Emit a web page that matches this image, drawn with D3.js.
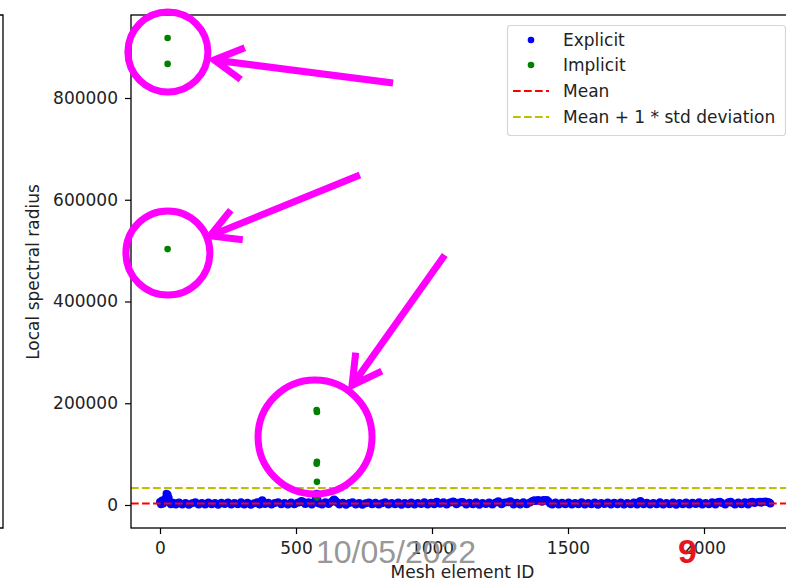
<!DOCTYPE html>
<html><head><meta charset="utf-8">
<script src="https://cdn.jsdelivr.net/npm/d3@7"></script>
<style>
body{margin:0;background:#fff;}
svg{display:block;font-family:"DejaVu Sans",sans-serif;}
</style></head>
<body><svg id="c" width="786" height="582"></svg>
<script>
// ---------- data ----------
const explicitPoints = [
 [0,6000],[4,1500],[8,9000],[12,3000],[16,7000],[20,13000],[24,22000],[28,20000],[32,14000],[36,6000],[40,1500],[48,4500],
 [58,800],[64,3500],[70,5000],[82,1200],[94,4000],[106,700],[118,3500],[130,5200],[142,1000],[154,4000],[166,800],[178,4800],
 [190,1500],[202,3800],[214,600],[226,4500],[238,1800],[250,5000],[262,900],[274,4000],[286,1500],[298,5500],[310,1000],[322,4200],
 [334,700],[346,3600],[358,5200],[366,1200],[372,7000],[376,9500],[380,6000],[386,2000],[398,4500],[410,900],[422,3800],[434,5500],
 [446,1300],[458,4000],[470,800],[482,5000],[494,1600],[506,4500],[514,5500],[520,8000],[526,6500],[534,2000],[546,5200],[558,1000],
 [566,4800],[572,12000],[576,22000],[580,9000],[584,3000],[596,1200],[608,5200],[620,2000],[628,5500],[636,9000],[640,11000],[646,8000],
 [652,4500],[660,1000],[672,4500],[684,700],[696,3800],[708,5200],[720,1200],[732,4000],[744,600],[756,3600],[768,5000],[780,1500],
 [792,4200],[804,800],[816,3500],[828,5200],[840,1000],[852,4000],[864,1600],[876,5000],[888,700],[900,3800],[912,1400],[924,4800],
 [936,900],[948,4000],[960,1800],[972,5400],[984,800],[996,4200],[1008,1500],[1014,5000],[1018,6500],[1030,2500],[1042,5500],[1054,1200],
 [1066,4800],[1074,5500],[1078,7000],[1084,5000],[1090,1500],[1102,5000],[1110,6000],[1114,5500],[1126,900],[1138,4200],[1150,1500],[1162,5200],
 [1174,700],[1186,4000],[1198,1800],[1210,4800],[1222,1000],[1234,5000],[1244,7500],[1250,4500],[1256,1500],[1268,4800],[1280,5500],[1288,7500],
 [1294,5000],[1300,1200],[1312,4500],[1324,900],[1336,5200],[1348,1600],[1360,5000],[1368,7500],[1376,9500],[1382,8000],[1390,10000],[1398,8500],
 [1404,6500],[1410,10000],[1416,9000],[1422,10000],[1428,7000],[1434,3000],[1442,1200],[1454,4800],[1466,800],[1478,4200],[1490,1500],[1502,5000],
 [1514,900],[1526,4000],[1538,1700],[1550,5200],[1562,800],[1574,3800],[1586,1500],[1598,4800],[1610,700],[1622,4000],[1634,1800],[1646,5000],
 [1658,900],[1670,4200],[1682,1400],[1694,4800],[1706,800],[1718,3800],[1730,1500],[1742,5000],[1754,1000],[1762,6000],[1766,8000],[1770,5500],
 [1778,1500],[1790,4500],[1802,800],[1814,4000],[1826,1600],[1838,5200],[1850,900],[1862,4000],[1874,1500],[1886,4800],[1898,700],[1910,3800],
 [1922,1500],[1934,5000],[1946,900],[1958,4200],[1970,1800],[1982,5500],[1994,1000],[2006,4000],[2018,1500],[2030,5200],[2042,900],[2050,5500],
 [2058,6500],[2066,4000],[2078,1200],[2090,5500],[2098,6500],[2102,4500],[2114,1000],[2126,4800],[2138,1500],[2150,5500],[2162,900],[2170,5500],
 [2178,6500],[2186,4000],[2198,6000],[2206,6500],[2210,4500],[2218,6500],[2226,7000],[2234,6000],[2240,5000],[2244,3000]
];
const implicitPoints = [
 [28,918000],[28,867000],[28,503000],[576,186500],[577,183000],[577,85000],[576,81000],[577,45500],[577,15000]
];
const meanValue = 3000;
const meanPlusStd = 33500;
const xTicks = [0,500,1000,1500,2000];
const yTicks = [0,200000,400000,600000,800000];
const legendLabels = ["Explicit","Implicit","Mean","Mean + 1 * std deviation"];
// annotations (data coordinates): circles and arrows (tail -> tip)
const annotCircles = [[29,890400,40],[29,495300,42],[570,133700,57]];
const annotArrows = [[857,829500,199,874700],[735,648800,184,529000],[1047,491300,706,235000]];

// ---------- layout ----------
const L=131, T=15, R=794, B=528;
const svg = d3.select("#c");
const x = d3.scaleLinear().domain([-106.6,2330.9]).range([L,R]);
const y = d3.scaleLinear().domain([-45209,963145]).range([B,T]);

// left neighbor frame edge
svg.append("path").attr("d",`M0,${T}H3V${B}H0`).attr("fill","none").attr("stroke","#000").attr("stroke-width",1.3);

const plot = svg.append("g");
svg.append("clipPath").attr("id","cp").append("rect").attr("x",L).attr("y",T).attr("width",R-L).attr("height",B-T);
const inner = plot.append("g").attr("clip-path","url(#cp)");

inner.selectAll("circle.e").data(explicitPoints).join("circle").attr("class","e")
 .attr("cx",d=>x(d[0])).attr("cy",d=>y(d[1])).attr("r",4).attr("fill","#0000ff");
inner.selectAll("circle.i").data(implicitPoints).join("circle").attr("class","i")
 .attr("cx",d=>x(d[0])).attr("cy",d=>y(d[1])).attr("r",3.3).attr("fill","#008000");

inner.append("line").attr("x1",L).attr("x2",R).attr("y1",y(meanValue)).attr("y2",y(meanValue))
 .attr("stroke","#ff0000").attr("stroke-width",2).attr("stroke-dasharray","7.7,3.3");
inner.append("line").attr("x1",L).attr("x2",R).attr("y1",y(meanPlusStd)).attr("y2",y(meanPlusStd))
 .attr("stroke","#bfbf00").attr("stroke-width",2).attr("stroke-dasharray","7.7,3.3");

// axes
const xa = plot.append("g").attr("transform",`translate(0,${B})`)
 .call(d3.axisBottom(x).tickValues(xTicks).tickSize(6).tickPadding(8).tickFormat(d3.format("d")));
const ya = plot.append("g").attr("transform",`translate(${L},0)`)
 .call(d3.axisLeft(y).tickValues(yTicks).tickSize(6).tickPadding(7).tickFormat(d3.format("d")));
[xa,ya].forEach(a=>{a.select(".domain").remove();
 a.selectAll("line").attr("stroke","#000").attr("stroke-width",1.2);
 a.selectAll("text").attr("font-size",17).attr("font-family","DejaVu Sans").attr("fill","#222");});
// spines
plot.append("rect").attr("x",L).attr("y",T).attr("width",R-L).attr("height",B-T)
 .attr("fill","none").attr("stroke","#000").attr("stroke-width",1.3);

// axis labels
svg.append("text").attr("x",(L+R)/2).attr("y",578).attr("text-anchor","middle").attr("font-size",17).attr("fill","#222").text("Mesh element ID");
svg.append("text").attr("transform","translate(39,272) rotate(-90)").attr("text-anchor","middle").attr("font-size",17).attr("fill","#222").text("Local spectral radius");

// legend
const lg = svg.append("g");
lg.append("rect").attr("x",507.5).attr("y",25.5).attr("width",278).attr("height",110).attr("rx",3)
 .attr("fill","#fff").attr("fill-opacity",0.8).attr("stroke","#d6d6d6").attr("stroke-width",1.2);
const rowY = [40,65,91,117];
lg.append("circle").attr("cx",531).attr("cy",rowY[0]).attr("r",3.3).attr("fill","#0000ff");
lg.append("circle").attr("cx",531).attr("cy",rowY[1]).attr("r",3.3).attr("fill","#008000");
lg.append("line").attr("x1",513).attr("x2",549).attr("y1",rowY[2]).attr("y2",rowY[2]).attr("stroke","#ff0000").attr("stroke-width",2).attr("stroke-dasharray","7.7,3.3");
lg.append("line").attr("x1",513).attr("x2",549).attr("y1",rowY[3]).attr("y2",rowY[3]).attr("stroke","#bfbf00").attr("stroke-width",2).attr("stroke-dasharray","7.7,3.3");
lg.selectAll("text").data(legendLabels).join("text").attr("x",563).attr("y",(d,i)=>rowY[i]+6)
 .attr("font-size",17).attr("fill","#222").text(d=>d);

// magenta annotations
const mag="#ff00ff";
svg.selectAll("circle.a").data(annotCircles).join("circle").attr("class","a")
 .attr("cx",d=>x(d[0])).attr("cy",d=>y(d[1])).attr("r",d=>d[2])
 .attr("fill","none").attr("stroke",mag).attr("stroke-width",7);
annotArrows.forEach(a=>{
 const x0=x(a[0]),y0=y(a[1]),x1=x(a[2]),y1=y(a[3]);
 const ang=Math.atan2(y0-y1,x0-x1), len=33, sp=29*Math.PI/180;
 const b1=[x1+len*Math.cos(ang-sp),y1+len*Math.sin(ang-sp)];
 const b2=[x1+len*Math.cos(ang+sp),y1+len*Math.sin(ang+sp)];
 svg.append("path").attr("d",`M${x0},${y0}L${x1},${y1}M${b1[0]},${b1[1]}L${x1},${y1}L${b2[0]},${b2[1]}`)
  .attr("fill","none").attr("stroke",mag).attr("stroke-width",7).attr("stroke-linecap","butt").attr("stroke-linejoin","miter");
});

// page overlays
svg.append("text").attr("x",316).attr("y",563).attr("font-family","Liberation Sans, Arial, sans-serif").attr("font-size",32)
 .attr("fill","#8a8a8a").attr("fill-opacity",0.9).text("10/05/2022");
svg.append("text").attr("x",678).attr("y",563).attr("font-family","Liberation Sans, Arial, sans-serif").attr("font-size",34)
 .attr("font-weight","bold").attr("fill","#e8141c").text("9");
</script></body></html>
